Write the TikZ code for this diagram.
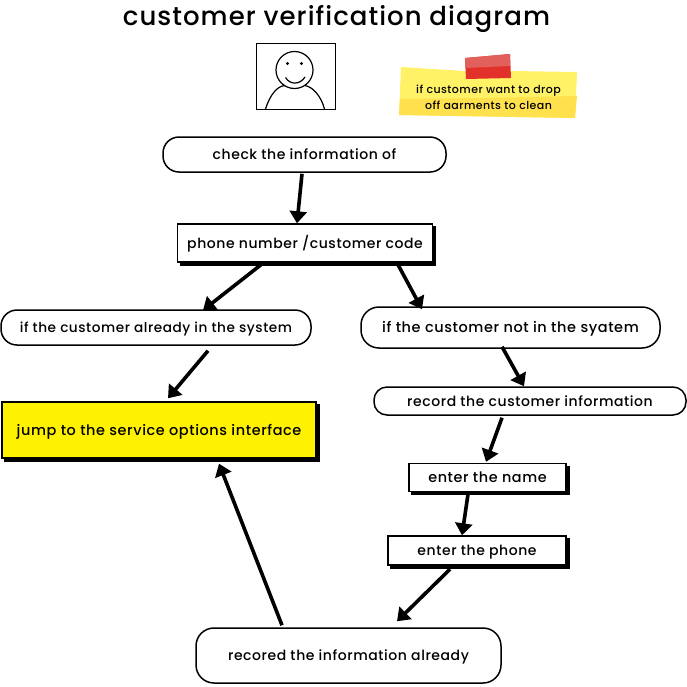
\documentclass[tikz,border=0pt]{standalone}
\usepackage{fontspec}
\setmainfont{Poppins Medium}[LetterSpace=4]
\usetikzlibrary{arrows.meta,shadows}
\definecolor{notea}{HTML}{FFF266}
\definecolor{noteb}{HTML}{FFE14D}
\definecolor{tapea}{HTML}{E2605C}
\definecolor{tapeb}{HTML}{E2302A}
\tikzset{
  x=1pt,y=-1pt,
  base/.style={draw=black,line width=1.5pt,fill=white,font=\fontsize{14}{16}\selectfont,inner sep=0pt,text=black,text height=13pt,text depth=3pt},
  pill/.style={base,rounded corners=16pt},
  boxed/.style={base,line width=1.4pt,general shadow={shadow xshift=3pt,shadow yshift=-3pt,fill=black,draw=black}},
  arr/.style={line width=3.6pt,draw=black,-{Triangle[length=12pt,width=17pt]}},
  note/.style={font=\fontsize{11}{16}\selectfont,align=center,inner sep=0pt,text=black},
  titletext/.style={font=\fontsize{26}{30}\selectfont,inner sep=0pt,text=black},
}
\begin{document}
\begin{tikzpicture}
\useasboundingbox (0,0) rectangle (687,686);
\fill[white] (0,0) rectangle (687,686);
\node[titletext] (title) at (336.5,19) {customer verification diagram};

% portrait
\draw[black,line width=1pt,fill=white] (256.5,43.5) rectangle (335.5,109.5);
\draw[black,line width=1.2pt] (294.5,70) circle (18.5);
\draw[black,line width=1.2pt] (265.5,109) .. controls (270,95) and (277,86) .. (285,85.5);
\draw[black,line width=1.2pt] (305,85.5) .. controls (313,87) and (321,96) .. (324.5,109);
\draw[black,line width=1.2pt] (285.5,77.5) .. controls (290,85) and (300,85) .. (305,77);
\fill[black] (287.5,63.5) circle (1.7) (301.5,63.5) circle (1.7);

% sticky note
\fill[notea] (401,67) -- (464,71) -- (511,71) -- (577,72) -- (575,118) -- (399,115) -- cycle;
\fill[noteb] (400,99) -- (480,98) -- (577,96) -- (575,118) -- (399,115) -- cycle;
\fill[tapeb] (465,58) -- (510,54) -- (511,78) -- (466,79) -- cycle;
\fill[tapea] (465,58) -- (510,54) -- (510,66) -- (465,68) -- cycle;
\node[note] (memo) at (488.5,97) {if customer want to drop\\off aarments to clean};

% nodes
\node[pill,minimum width=283pt,minimum height=35pt] (check) at (304.5,154.5) {check the information of};
\node[boxed,minimum width=255pt,minimum height=38pt] (phone) at (305,243) {phone number /customer code};
\node[pill,font=\fontsize{13.65}{16}\selectfont,minimum width=310pt,minimum height=35pt] (already) at (156,327.5) {if the customer already in the system};
\node[pill,font=\fontsize{14.5}{16}\selectfont,rounded corners=18pt,minimum width=299pt,minimum height=41pt] (notin) at (510.5,327.5) {if the customer not in the syatem};
\node[pill,rounded corners=13pt,minimum width=312pt,minimum height=28pt] (record) at (530,401) {record the customer information};
\node[boxed,fill=yellow,font=\fontsize{14.45}{16}\selectfont,minimum width=314pt,minimum height=56pt] (jump) at (159,430) {jump to the service options interface};
\node[boxed,font=\fontsize{14.4}{16}\selectfont,minimum width=157pt,minimum height=28pt] (name) at (487.5,477.5) {enter the name};
\node[boxed,minimum width=178pt,minimum height=29pt] (enterphone) at (477,550.5) {enter the phone};
\node[pill,rounded corners=18pt,minimum width=305pt,minimum height=55pt] (recored) at (348.5,655.5) {recored the information already};

% connectors
\draw[arr] ([xshift=-2.5pt,yshift=-1pt]check.south) -- ([xshift=-8pt]phone.north);
\draw[arr] ([xshift=-44pt,yshift=-2pt]phone.south) -- ([xshift=47pt,yshift=-1pt]already.north);
\draw[arr] ([xshift=93pt,yshift=-2pt]phone.south) -- ([xshift=-88.5pt,yshift=-3pt]notin.north);
\draw[arr] ([xshift=52pt,yshift=-5pt]already.south) -- ([xshift=9pt,yshift=3pt]jump.north);
\draw[arr] ([xshift=-8.5pt,yshift=2pt]notin.south) -- ([xshift=-6pt]record.north);
\draw[arr] ([xshift=-28pt,yshift=-2pt]record.south) -- ([xshift=-1.5pt,yshift=1pt]name.north);
\draw[arr] ([xshift=-19.5pt,yshift=-2pt]name.south) -- ([xshift=-15pt]enterphone.north);
\draw[arr] ([xshift=-27pt,yshift=-3.5pt]enterphone.south) -- ([xshift=48.5pt,yshift=6pt]recored.north);
\draw[arr] ([xshift=-66.5pt,yshift=2pt]recored.north) -- ([xshift=60pt,yshift=-5pt]jump.south);
\end{tikzpicture}
\end{document}
